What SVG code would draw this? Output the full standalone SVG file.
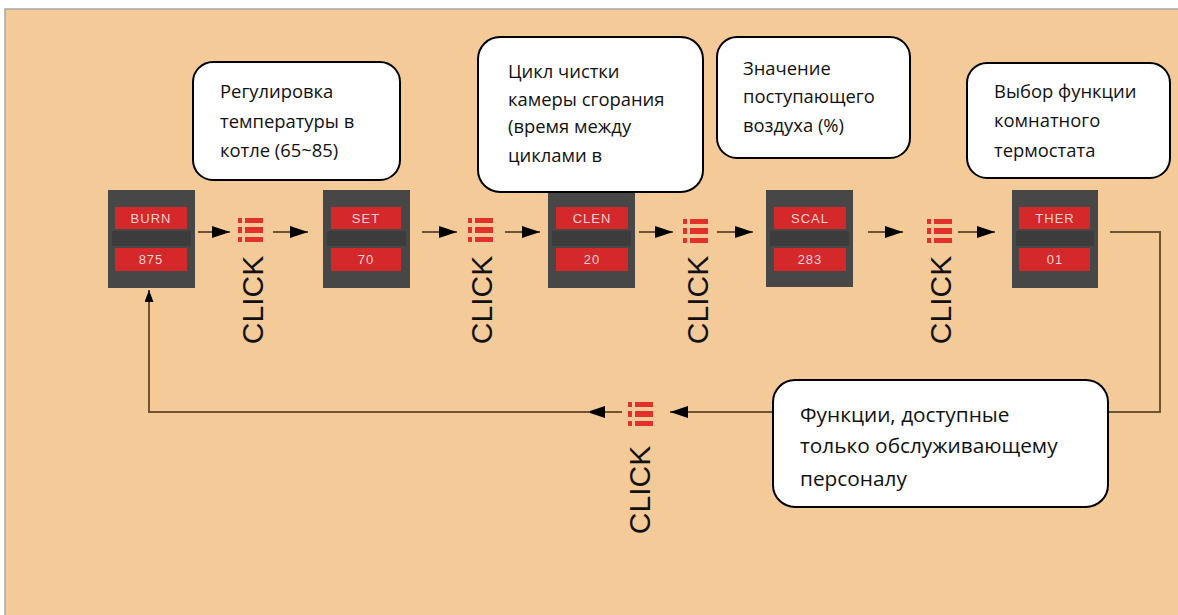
<svg xmlns="http://www.w3.org/2000/svg" width="1178" height="615" viewBox="0 0 1178 615">
<style>
.bg{fill:#F4CA98;stroke:#A8A8A8;stroke-width:1.5}
.disp{fill:#474747}
.bar{fill:#D4282A}
.gap{fill:#3C3C3C}
.dtxt{font-family:"Liberation Sans",Arial,sans-serif;font-size:13px;fill:#F6D2D2;text-anchor:middle;letter-spacing:1px}
.call{fill:#FFFFFF;stroke:#000;stroke-width:2}
.ctxt{font-family:"Open Sans","Noto Sans",sans-serif;font-size:18.4px;fill:#111}
.big{font-size:20.8px}
.click{font-family:"Liberation Sans",Arial,sans-serif;font-size:30px;fill:#111;text-anchor:middle;dominant-baseline:central}
.ln{fill:none;stroke:#6E5433;stroke-width:2}
.ic{fill:#E2302A}
</style>
<defs>
<marker id="ah" viewBox="0 0 18 12" refX="18" refY="6" markerWidth="18" markerHeight="12" markerUnits="userSpaceOnUse" orient="auto">
<path d="M0,0 L18,6 L0,12 z" fill="#000"/>
</marker>
<marker id="ahs" viewBox="0 0 12 9" refX="12" refY="4.5" markerWidth="12" markerHeight="9" markerUnits="userSpaceOnUse" orient="auto">
<path d="M0,0 L12,4.5 L0,9 z" fill="#000"/>
</marker>
<g id="icon">
<rect class="ic" x="0" y="0" width="4" height="5"/>
<rect class="ic" x="7" y="0" width="18" height="5"/>
<rect class="ic" x="0" y="9" width="4" height="6"/>
<rect class="ic" x="7" y="9" width="18" height="6"/>
<rect class="ic" x="0" y="19" width="4" height="5"/>
<rect class="ic" x="7" y="19" width="18" height="5"/>
</g>
</defs>
<rect width="1178" height="615" fill="#FFFFFF"/>
<rect class="bg" x="5" y="9" width="1180" height="615"/>

<g id="connectors">
<line class="ln" x1="198" y1="232" x2="230" y2="232" marker-end="url(#ah)"/>
<line class="ln" x1="273" y1="232" x2="308" y2="232" marker-end="url(#ah)"/>
<line class="ln" x1="422" y1="232" x2="457" y2="232" marker-end="url(#ah)"/>
<line class="ln" x1="505" y1="232" x2="540" y2="232" marker-end="url(#ah)"/>
<line class="ln" x1="639" y1="232" x2="673" y2="232" marker-end="url(#ah)"/>
<line class="ln" x1="717" y1="232" x2="753" y2="232" marker-end="url(#ah)"/>
<line class="ln" x1="868" y1="232" x2="903" y2="232" marker-end="url(#ah)"/>
<line class="ln" x1="958" y1="232" x2="995" y2="232" marker-end="url(#ah)"/>
<path class="ln" d="M1110,232 H1160 V412 H670" marker-end="url(#ah)"/>
<path class="ln" d="M622,412 H587" marker-end="url(#ah)"/>
<path class="ln" d="M590,412 H149 V290" marker-end="url(#ahs)"/>
</g>

<g id="icons">
<use href="#icon" x="238" y="218"/>
<use href="#icon" x="468" y="218"/>
<use href="#icon" x="683" y="219"/>
<use href="#icon" x="927" y="219"/>
<use href="#icon" x="628" y="402"/>
</g>

<g id="clicks">
<text class="click" transform="translate(252,300) rotate(-90)">CLICK</text>
<text class="click" transform="translate(481,300) rotate(-90)">CLICK</text>
<text class="click" transform="translate(697,300) rotate(-90)">CLICK</text>
<text class="click" transform="translate(940,300) rotate(-90)">CLICK</text>
<text class="click" transform="translate(639,490) rotate(-90)">CLICK</text>
</g>

<g id="disp-burn">
<rect class="disp" x="108" y="190" width="87" height="98"/>
<rect class="gap" x="112" y="231" width="79" height="15"/>
<rect class="bar" x="115" y="207" width="72" height="22"/>
<rect class="bar" x="115" y="248" width="72" height="23"/>
<text class="dtxt" x="151" y="223">BURN</text>
<text class="dtxt" x="151" y="264">875</text>
</g>
<g id="disp-set">
<rect class="disp" x="323" y="190" width="87" height="98"/>
<rect class="gap" x="327" y="231" width="79" height="15"/>
<rect class="bar" x="331" y="207" width="70" height="22"/>
<rect class="bar" x="331" y="248" width="70" height="23"/>
<text class="dtxt" x="366" y="223">SET</text>
<text class="dtxt" x="366" y="264">70</text>
</g>
<g id="disp-clen">
<rect class="disp" x="548" y="192" width="87" height="96"/>
<rect class="gap" x="552" y="231" width="79" height="15"/>
<rect class="bar" x="556" y="207" width="72" height="22"/>
<rect class="bar" x="556" y="248" width="72" height="23"/>
<text class="dtxt" x="592" y="223">CLEN</text>
<text class="dtxt" x="592" y="264">20</text>
</g>
<g id="disp-scal">
<rect class="disp" x="766" y="190" width="87" height="97"/>
<rect class="gap" x="770" y="231" width="79" height="15"/>
<rect class="bar" x="774" y="207" width="72" height="22"/>
<rect class="bar" x="774" y="248" width="72" height="23"/>
<text class="dtxt" x="810" y="223">SCAL</text>
<text class="dtxt" x="810" y="264">283</text>
</g>
<g id="disp-ther">
<rect class="disp" x="1012" y="190" width="86" height="98"/>
<rect class="gap" x="1016" y="231" width="78" height="15"/>
<rect class="bar" x="1019" y="207" width="71" height="22"/>
<rect class="bar" x="1019" y="248" width="71" height="23"/>
<text class="dtxt" x="1055" y="223">THER</text>
<text class="dtxt" x="1055" y="264">01</text>
</g>

<g id="note-temp">
<rect class="call" x="193" y="62" width="207" height="118" rx="20"/>
<text class="ctxt" x="220" y="98">Регулировка</text>
<text class="ctxt" x="220" y="128">температуры в</text>
<text class="ctxt" x="220" y="157">котле (65~85)</text>
</g>
<g id="note-clean">
<rect class="call" x="478" y="37" width="225" height="155" rx="22"/>
<text class="ctxt" x="508" y="78">Цикл чистки</text>
<text class="ctxt" x="508" y="106">камеры сгорания</text>
<text class="ctxt" x="508" y="133">(время между</text>
<text class="ctxt" x="508" y="162">циклами в</text>
</g>
<g id="note-air">
<rect class="call" x="717" y="37" width="193" height="121" rx="20"/>
<text class="ctxt" x="743" y="75">Значение</text>
<text class="ctxt" x="743" y="103">поступающего</text>
<text class="ctxt" x="743" y="132">воздуха (%)</text>
</g>
<g id="note-thermo">
<rect class="call" x="967" y="63" width="203" height="115" rx="20"/>
<text class="ctxt" x="994" y="98">Выбор функции</text>
<text class="ctxt" x="994" y="127">комнатного</text>
<text class="ctxt" x="994" y="157">термостата</text>
</g>
<g id="note-service">
<rect class="call" x="773" y="380" width="335" height="127" rx="22"/>
<text class="ctxt big" x="800" y="422">Функции, доступные</text>
<text class="ctxt big" x="800" y="453">только обслуживающему</text>
<text class="ctxt big" x="800" y="486">персоналу</text>
</g>
</svg>
